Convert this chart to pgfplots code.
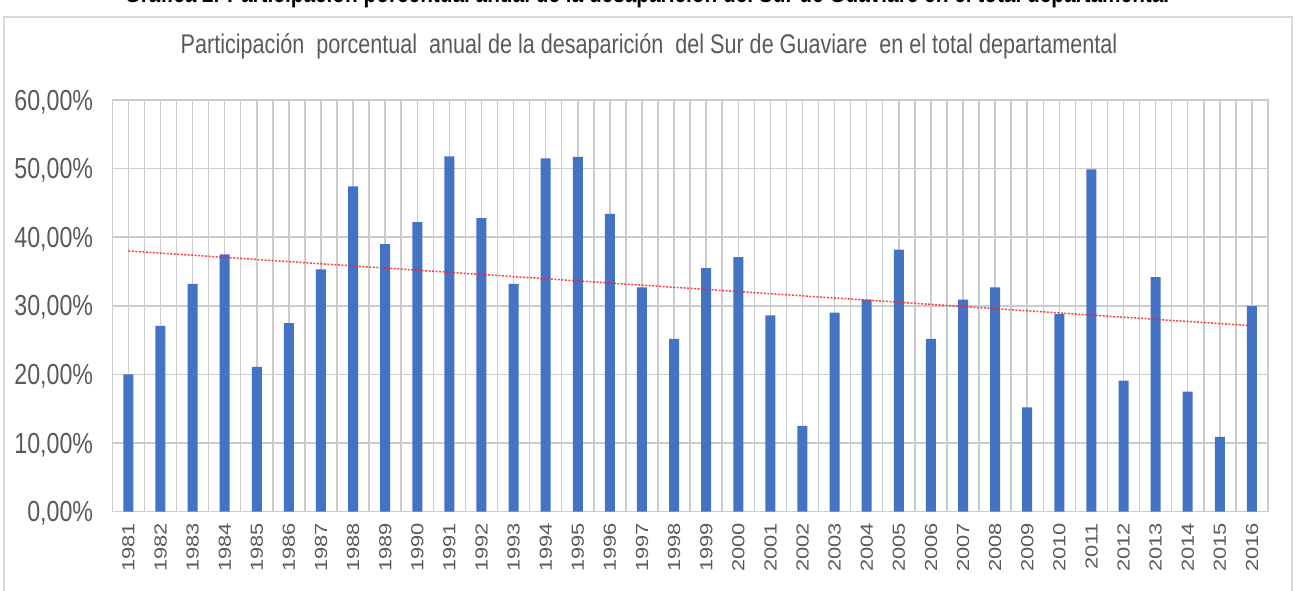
\documentclass[border=0pt]{standalone}
\usepackage{fontspec}
\setmainfont{Liberation Sans}
\newfontfamily\narrowfont[FakeStretch=0.8]{Liberation Sans}
\newfontfamily\rotfont[FakeStretch=1.25]{Liberation Sans}
\usepackage{pgfplots}
\pgfplotsset{compat=1.18}
\definecolor{barblue}{HTML}{4472C4}
\definecolor{gridgray}{HTML}{D9D9D9}
\definecolor{vgrid}{HTML}{CCCCCC}
\definecolor{txtgray}{HTML}{595959}
\definecolor{trendred}{HTML}{FF2020}

\pgfplotstableread{
idx val
0 20.0
1 27.1
2 33.2
3 37.5
4 21.1
5 27.5
6 35.3
7 47.4
8 39.0
9 42.2
10 51.8
11 42.8
12 33.2
13 51.5
14 51.7
15 43.4
16 32.7
17 25.2
18 35.5
19 37.1
20 28.6
21 12.5
22 29.0
23 30.9
24 38.2
25 25.2
26 30.9
27 32.7
28 15.2
29 28.8
30 49.9
31 19.1
32 34.2
33 17.5
34 10.9
35 30.0
}\datatable

\pgfplotstableread{
idx val
0 38.0
35 27.1
}\trendtable

\begin{document}
\begin{tikzpicture}[x=1pt,y=1pt]
\useasboundingbox (0,0) rectangle (1297,590);
\draw[gridgray, line width=2pt] (4,-20) rectangle (1292,573);
\node[anchor=base, inner sep=0pt, font=\narrowfont\bfseries\fontsize{26}{28}\selectfont] at (647,587) {Gráfica 2. Participación porcentual anual de la desaparición del Sur de Guaviare en el total departamental};
\node[anchor=base, inner sep=0pt, text=txtgray, font=\narrowfont\fontsize{27}{30}\selectfont] at (649,536) {Participación \ porcentual \ anual de la desaparición \ del Sur de Guaviare \ en el total departamental};
\begin{axis}[
  at={(112.3pt,78.3pt)}, anchor=south west,
  scale only axis, width=1155.7pt, height=411.7pt,
  xmin=-0.5, xmax=35.5, ymin=0, ymax=60,
  axis lines=box,
  axis line style={vgrid, line width=1.5pt},
  xtick={0,...,35},
  xticklabels={1981,1982,1983,1984,1985,1986,1987,1988,1989,1990,1991,1992,1993,1994,1995,1996,1997,1998,1999,2000,2001,2002,2003,2004,2005,2006,2007,2008,2009,2010,2011,2012,2013,2014,2015,2016},
  minor xtick={-0.5,0.5,...,35.5},
  ytick={0,10,...,60},
  yticklabels={{0,00\%},{10,00\%},{20,00\%},{30,00\%},{40,00\%},{50,00\%},{60,00\%}},
  xmajorgrids, xminorgrids, ymajorgrids,
  grid style={vgrid, line width=1.5pt},
  minor grid style={vgrid, line width=1.5pt},
  major tick length=0pt, minor tick length=0pt,
  tick style={draw=none},
  yticklabel style={font=\narrowfont\fontsize{29}{30}\selectfont, text=txtgray, inner sep=0pt, text depth=0pt, anchor=east, xshift=-19pt},
  xticklabel style={font=\rotfont\fontsize{17.5}{18}\selectfont, text=txtgray, inner sep=0pt, text depth=0pt, rotate=90, anchor=east},
  xticklabel shift=11pt,
  clip=false,
]
\addplot[ybar, bar width=10pt, fill=barblue, draw=none] table[x=idx,y=val]{\datatable};
\addplot[trendred, line width=1.5pt, dash pattern=on 2pt off 1.5pt, opacity=0.85] table[x=idx,y=val]{\trendtable};
\end{axis}
\end{tikzpicture}
\end{document}
